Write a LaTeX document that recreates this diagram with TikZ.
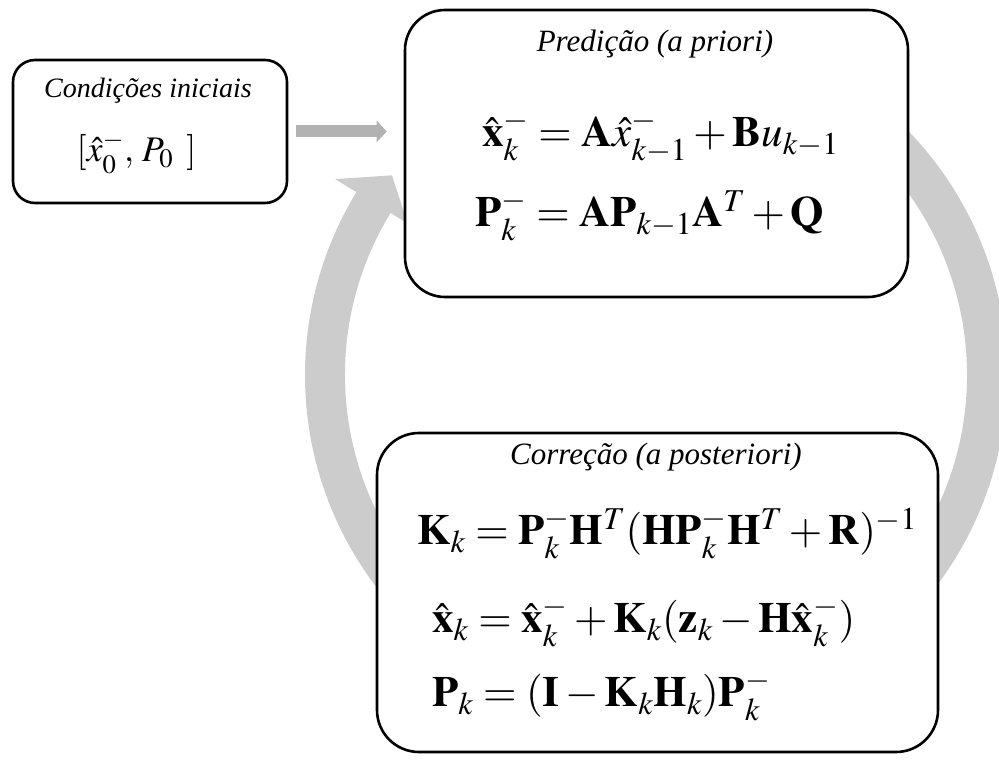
\documentclass[tikz,border=0pt]{standalone}
\usepackage{mathptmx}
\usepackage{fontspec}
\setmainfont{Liberation Serif}
\usetikzlibrary{arrows.meta}
\begin{document}
\begin{tikzpicture}[x=1pt,y=1pt,
  box/.style={draw=black, line width=2.6pt, fill=white, inner sep=0pt},
  ttl/.style={font=\fontsize{31}{36}\selectfont\itshape, anchor=base, inner sep=0pt},
  eqn/.style={font=\fontsize{43}{50}\selectfont, anchor=base west, inner sep=0pt},
  ringgray/.style={fill=black!20},
  feed/.style={line width=12pt, draw=black!30, -{Triangle[width=21pt,length=10pt]}}]
\useasboundingbox (0,0) rectangle (999,766);
% big cycle arrow (drawn behind the boxes)
\fill[ringgray, shift={(656,391)}]
  (90:351) arc[start angle=90, end angle=-211.4, radius=351]
  -- (-211.4:376) -- (-217.1:331) -- (-211.4:291) -- (-211.4:311)
  arc[start angle=-211.4, end angle=90, radius=311] -- cycle;
% boxes
\node[box, rounded corners=22pt, minimum width=274pt, minimum height=143pt] (init) at (150,634.5) {};
\node[box, rounded corners=40pt, minimum width=503pt, minimum height=287pt] (pred) at (656.5,612.5) {};
\node[box, rounded corners=42pt, minimum width=561pt, minimum height=319pt] (corr) at (657.5,173.5) {};
% feed arrow
\draw[feed, shorten <=8pt, shorten >=17pt] (init.east) -- (init.east -| pred.west);
% texts
\node[ttl, font=\fontsize{28}{32}\selectfont\itshape] (itl) at (148,668) {Condições iniciais};
\node[font=\fontsize{36}{42}\selectfont, anchor=base, inner sep=0pt] (ifm) at (136.5,604) {$[\hat{x}_0^-,\, P_0\ \,]$};
\node[ttl] (ptl) at (655,714) {Predição (a priori)};
\node[eqn] (p1) at (482,619) {$\hat{\mathbf{x}}_k^- = \mathbf{A}\hat{x}_{k-1}^- + \mathbf{B}u_{k-1}$};
\node[eqn] (p2) at (475,539) {$\mathbf{P}_k^- = \mathbf{A}\mathbf{P}_{k-1}\mathbf{A}^T + \mathbf{Q}$};
\node[ttl] (ctl) at (656,301) {Correção (a posteriori)};
\node[eqn] (c1) at (417,221) {$\mathbf{K}_k = \mathbf{P}_k^-\mathbf{H}^T(\mathbf{H}\mathbf{P}_k^-\mathbf{H}^T+\mathbf{R})^{-1}$};
\node[eqn] (c2) at (432,133) {$\hat{\mathbf{x}}_k = \hat{\mathbf{x}}_k^- + \mathbf{K}_k(\mathbf{z}_k - \mathbf{H}\hat{\mathbf{x}}_k^-)$};
\node[eqn] (c3) at (432,59) {$\mathbf{P}_k = (\mathbf{I}-\mathbf{K}_k\mathbf{H}_k)\mathbf{P}_k^-$};
\end{tikzpicture}
\end{document}
